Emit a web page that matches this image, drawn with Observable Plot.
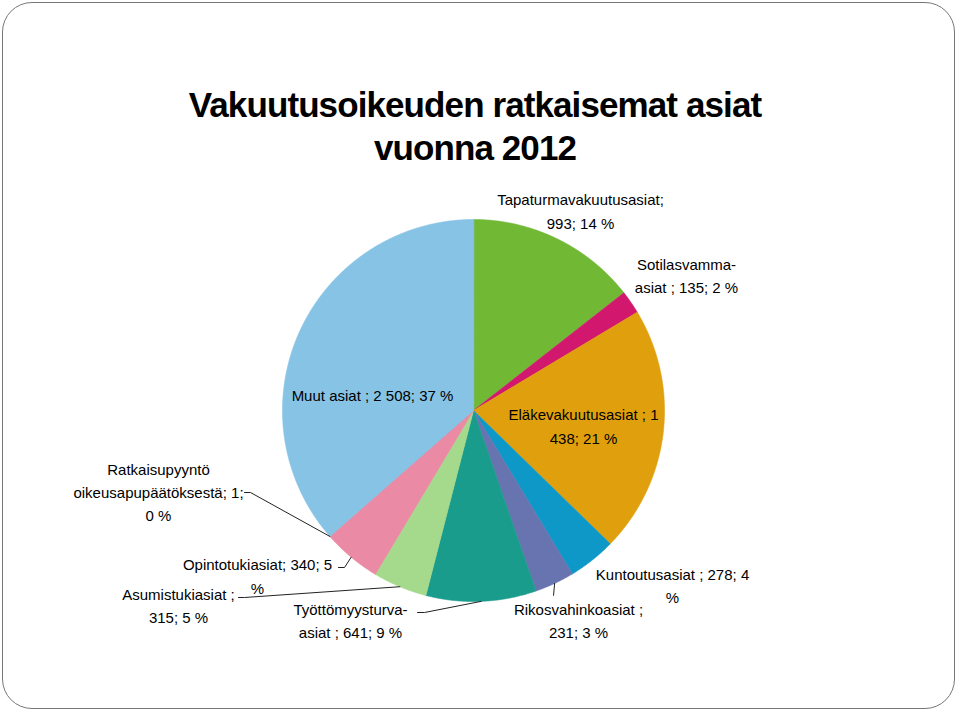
<!DOCTYPE html>
<html>
<head>
<meta charset="utf-8">
<script src="https://cdn.jsdelivr.net/npm/d3@7"></script>
<script src="https://cdn.jsdelivr.net/npm/@observablehq/plot@0.6"></script>
<style>
  html, body { margin: 0; padding: 0; background: #fff; }
  #wrap { position: relative; width: 960px; height: 714px; overflow: hidden; font-family: "Liberation Sans", Arial, sans-serif; }
  #frame { position: absolute; left: 2px; top: 2px; width: 953px; height: 707px; border: 1.5px solid #777; border-radius: 30px; box-sizing: border-box; }
  #title { position: absolute; left: 0; width: 950px; top: 83px; text-align: center; font-weight: bold; font-size: 35px; line-height: 43px; letter-spacing: -0.9px; color: #000; }
  #chart { position: absolute; left: 0; top: 0; }
</style>
</head>
<body>
<div id="wrap">
  <div id="frame"></div>
  <div id="chart"></div>
  <div id="title">Vakuutusoikeuden ratkaisemat asiat<br>vuonna 2012</div>
</div>
<script>
// ---- data (clockwise from 12 o'clock) ----
const categories = [
  "Tapaturmavakuutusasiat", "Sotilasvamma-asiat", "Eläkevakuutusasiat", "Kuntoutusasiat",
  "Rikosvahinkoasiat", "Työttömyysturva-asiat", "Asumistukiasiat", "Opintotukiasiat",
  "Ratkaisupyyntö oikeusapupäätöksestä", "Muut asiat"
];
const values = [993, 135, 1438, 278, 231, 641, 315, 340, 1, 2508];
const labels = [
  "Tapaturmavakuutusasiat;\n993; 14 %",
  "Sotilasvamma-\nasiat ; 135; 2 %",
  "Eläkevakuutusasiat ; 1\n438; 21 %",
  "Kuntoutusasiat ; 278; 4\n%",
  "Rikosvahinkoasiat ;\n231; 3 %",
  "Työttömyysturva-\nasiat ; 641; 9 %",
  "Asumistukiasiat ;\n315; 5 %",
  "Opintotukiasiat; 340; 5\n%",
  "Ratkaisupyyntö\noikeusapupäätöksestä; 1;\n0 %",
  "Muut asiat ; 2 508; 37 %"
];
const colors = ["#71b835", "#d2186e", "#e0a00e", "#0d98c8", "#6774b0", "#1a9c8c", "#a5da8c", "#ea8aa5", "#ea8aa5", "#86c3e5"];

// ---- layout (pixels) ----
const W = 960, H = 714, CX = 473, CY = 410, R = 191;
// label block centres
const labelPos = [[580, 209], [686, 273.5], [583, 424], [672, 583.5], [578, 618.5], [350, 618.5], [178, 603.5], [257, 574], [158, 490], [372, 393]];
// leader-line label ends (null = none): start + elbow
const leaderStart = [null, null, null, null, [553, 595, 553, 595], [417, 612, 424, 612], [238, 597, 244, 597], [338, 567, 344, 567], [244, 492, 250, 492], null];

const toX = px => (px - CX) / R;
const toY = py => (CY - py) / R;

const total = d3.sum(values);
let cum = 0;
const slices = categories.map((c, i) => {
  const a0 = cum / total * 2 * Math.PI;
  cum += values[i];
  const a1 = cum / total * 2 * Math.PI;
  return {name: c, i, a0, a1, mid: (a0 + a1) / 2};
});

const polyPts = [];
for (const s of slices) {
  polyPts.push({name: s.name, x: 0, y: 0});
  const n = Math.max(2, Math.ceil((s.a1 - s.a0) / 0.005));
  for (let k = 0; k <= n; k++) {
    const a = s.a0 + (s.a1 - s.a0) * k / n;
    polyPts.push({name: s.name, x: Math.sin(a), y: Math.cos(a)});
  }
}

const labelData = slices.map(s => ({name: s.name, text: labels[s.i], x: toX(labelPos[s.i][0]), y: toY(labelPos[s.i][1])}));

const leaderPts = [];
for (const s of slices) {
  const ls = leaderStart[s.i];
  if (!ls) continue;
  leaderPts.push({name: s.name, x: toX(ls[0]), y: toY(ls[1])});
  leaderPts.push({name: s.name, x: toX(ls[2]), y: toY(ls[3])});
  leaderPts.push({name: s.name, x: Math.sin(s.mid), y: Math.cos(s.mid)});
}

const chart = Plot.plot({
  width: W, height: H,
  marginLeft: 0, marginRight: 0, marginTop: 0, marginBottom: 0,
  x: {domain: [toX(0), toX(W)], axis: null},
  y: {domain: [toY(H), toY(0)], axis: null},
  color: {domain: categories, range: colors},
  style: {background: "transparent", fontFamily: "'Liberation Sans', Arial, sans-serif"},
  marks: [
    Plot.line(polyPts, {x: "x", y: "y", z: "name", fill: "name", stroke: "name", strokeWidth: 0.6, curve: "linear-closed"}),
    Plot.line(leaderPts, {x: "x", y: "y", z: "name", stroke: "#222", strokeWidth: 1}),
    Plot.text(labelData, {x: "x", y: "y", text: "text", fontSize: 15, lineHeight: 1.55, fill: "#000", textAnchor: "middle", lineAnchor: "middle"})
  ]
});
document.getElementById("chart").appendChild(chart);
</script>
</body>
</html>
